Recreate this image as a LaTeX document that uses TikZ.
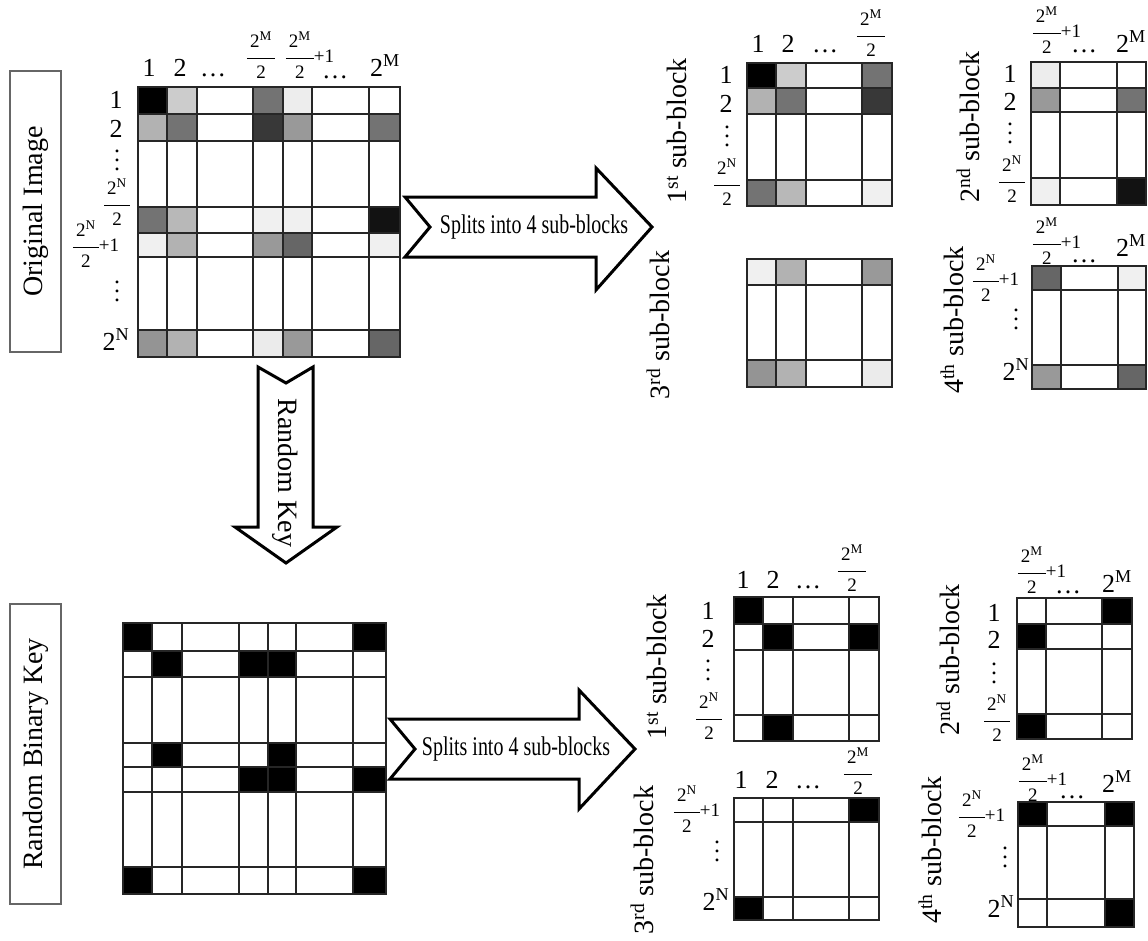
\documentclass[tikz,border=0pt]{standalone}
\usepackage{fontspec}
\setmainfont{Liberation Serif}
\usepackage{tikz}

% one grid of shaded cells: #1 column edges, #2 row edges, #3 grey levels row by row
\newcommand{\pixgrid}[3]{%
  \foreach [count=\r from 0] \rowvals in {#3} {
    \foreach [count=\c from 0] \s in \rowvals {
      \pgfmathsetmacro\xa{{#1}[\c]}
      \pgfmathsetmacro\xb{{#1}[\c+1]}
      \pgfmathsetmacro\ya{{#2}[\r]}
      \pgfmathsetmacro\yb{{#2}[\r+1]}
      \draw[cell,fill=black!\s] (\xa,\ya) rectangle (\xb,\yb);
    }
  }%
}
% three stacked dots
\newcommand{\stackdots}{\vbox{\baselineskip=9pt\hbox{.}\hbox{.}\hbox{.}}}
% 2^X over 2
\newcommand{\halffrac}[1]{{\setlength{\arrayrulewidth}{1.5pt}%
  \begin{tabular}{@{\,}c@{\,}}2\textsuperscript{#1}\\[5pt]\hline\rule{0pt}{19pt}2\end{tabular}}}

\begin{document}
\begin{tikzpicture}[x=1pt,y=-1pt]
  \tikzstyle{cell}=[draw=black!85,line width=1.6pt]
  \tikzstyle{lbl}=[inner sep=0pt,anchor=base,font=\fontsize{26}{26}\selectfont]
  \tikzstyle{frc}=[inner sep=0pt,font=\fontsize{19}{19}\selectfont]
  \tikzstyle{vdts}=[inner sep=0pt,font=\fontsize{24}{24}\selectfont]
  \tikzstyle{sidebox}=[draw=black!60,line width=1.8pt,rotate=90,minimum height=51pt,inner sep=0pt,font=\fontsize{28}{28}\selectfont]
  \tikzstyle{subname}=[rotate=90,inner sep=0pt,font=\fontsize{28}{28}\selectfont]
  \tikzstyle{blockarrow}=[draw=black,line width=3pt,fill=white,line join=miter]
  \tikzstyle{arrowtext}=[inner sep=0pt,font=\fontsize{27}{27}\selectfont]
  \useasboundingbox[fill=white] (0,0) rectangle (1148,940);

  % original image
  \node[sidebox,minimum width=281pt] (origbox) at (35.5,211.5) {Original Image};
  \pixgrid{138,167,197,253,283,312,369,400}{87,114,141,207,233,257,330,357}
    {{100,20,0,55,7,0,0},{30,55,0,78,40,0,55},{0,0,0,0,0,0,0},{55,28,0,6,6,0,93},
     {6,30,0,40,60,0,6},{0,0,0,0,0,0,0},{42,30,0,8,40,0,60}}
  \node[lbl] (oc1) at (149,76) {1};
  \node[lbl] (oc2) at (180,76) {2};
  \node[lbl] (oc3) at (213,76) {\dots};
  \node[frc] (oc4) at (261,58) {\halffrac{M}};
  \node[frc] (oc5) at (310,58) {\halffrac{M}+1};
  \node[lbl] (oc6) at (335,78) {\dots};
  \node[lbl] (oc7) at (385,76) {2\textsuperscript{M}};
  \node[lbl] (or1) at (116,108) {1};
  \node[lbl] (or2) at (116,137) {2};
  \node[vdts] (or3) at (117,160) {\stackdots};
  \node[frc] (or4) at (117,205) {\halffrac{N}};
  \node[frc] (or5) at (96,247) {\halffrac{N}+1};
  \node[vdts] (or6) at (117,291) {\stackdots};
  \node[lbl] (or7) at (116,350) {2\textsuperscript{N}};

  % split arrow, top
  \draw[blockarrow] (405,197) -- (596,197) -- (596,168) -- (652,227) -- (596,290)
    -- (596,257) -- (405,257) -- (430,227) -- cycle;
  \node[arrowtext] (split1) at (534,227) {\scalebox{0.74}[1]{Splits into 4 sub-blocks}};

  % random key arrow
  \draw[blockarrow] (258,367) -- (286,383) -- (313,367) -- (313,527) -- (337,527)
    -- (286,563) -- (235,527) -- (258,527) -- cycle;
  \node[arrowtext,rotate=-90,font=\fontsize{28}{28}\selectfont] (keyarrow) at (285,473) {Random Key};

  % sub-blocks of the image
  \node[subname] (img1) at (677,131) {1\textsuperscript{st} sub-block};
  \pixgrid{747,776,806,862,892}{63,88,114,180,206}
    {{100,20,0,55},{30,55,0,78},{0,0,0,0},{55,28,0,6}}
  \node[lbl] (a1c1) at (758,52) {1};
  \node[lbl] (a1c2) at (788,52) {2};
  \node[lbl] (a1c3) at (825,52) {\dots};
  \node[frc] (a1c4) at (871,36) {\halffrac{M}};
  \node[lbl] (a1r1) at (726,83) {1};
  \node[lbl] (a1r2) at (726,112) {2};
  \node[vdts] (a1r3) at (727,136) {\stackdots};
  \node[frc] (a1r4) at (727,185) {\halffrac{N}};

  \node[subname] (img2) at (968,127) {2\textsuperscript{nd} sub-block};
  \pixgrid{1031,1060,1117,1146}{62,88,112,178,205}
    {{7,0,0},{40,0,55},{0,0,0},{6,0,93}}
  \node[frc] (a2c1) at (1057,33) {\halffrac{M}+1};
  \node[lbl] (a2c2) at (1084,52) {\dots};
  \node[lbl] (a2c3) at (1131,52) {2\textsuperscript{M}};
  \node[lbl] (a2r1) at (1010,82) {1};
  \node[lbl] (a2r2) at (1010,110) {2};
  \node[vdts] (a2r3) at (1010,133) {\stackdots};
  \node[frc] (a2r4) at (1012,182) {\halffrac{N}};

  \node[subname] (img3) at (658,325) {3\textsuperscript{rd} sub-block};
  \pixgrid{747,776,806,862,892}{259,285,360,387}
    {{6,30,0,40},{0,0,0,0},{42,30,0,8}}

  \node[subname] (img4) at (952,320) {4\textsuperscript{th} sub-block};
  \pixgrid{1032,1061,1118,1146}{266,290,365,389}
    {{60,0,6},{0,0,0},{40,0,60}}
  \node[frc] (a4c1) at (1057,244) {\halffrac{M}+1};
  \node[lbl] (a4c2) at (1084,262) {\dots};
  \node[lbl] (a4c3) at (1131,256) {2\textsuperscript{M}};
  \node[frc] (a4r1) at (996,281) {\halffrac{N}+1};
  \node[vdts] (a4r2) at (1016,319) {\stackdots};
  \node[lbl] (a4r3) at (1016,380) {2\textsuperscript{N}};

  % random binary key
  \node[sidebox,minimum width=300pt] (keybox) at (35.5,754) {Random Binary Key};
  \pixgrid{123,152,182,239,268,296,353,386}{623,651,677,743,767,792,867,894}
    {{100,0,0,0,0,0,100},{0,100,0,100,100,0,0},{0,0,0,0,0,0,0},{0,100,0,0,100,0,0},
     {0,0,0,100,100,0,100},{0,0,0,0,0,0,0},{100,0,0,0,0,0,100}}

  % split arrow, bottom
  \draw[blockarrow] (390,719) -- (579,719) -- (579,690) -- (635,749) -- (579,809)
    -- (579,779) -- (390,779) -- (415,749) -- cycle;
  \node[arrowtext] (split2) at (516,749) {\scalebox{0.74}[1]{Splits into 4 sub-blocks}};

  % sub-blocks of the key
  \node[subname] (key1) at (657,667) {1\textsuperscript{st} sub-block};
  \pixgrid{734,763,793,849,879}{597,624,650,715,741}
    {{100,0,0,0},{0,100,0,100},{0,0,0,0},{0,100,0,0}}
  \node[lbl] (b1c1) at (743,588) {1};
  \node[lbl] (b1c2) at (773,588) {2};
  \node[lbl] (b1c3) at (808,588) {\dots};
  \node[frc] (b1c4) at (852,571) {\halffrac{M}};
  \node[lbl] (b1r1) at (708,619) {1};
  \node[lbl] (b1r2) at (708,647) {2};
  \node[vdts] (b1r3) at (708,670) {\stackdots};
  \node[frc] (b1r4) at (709,719) {\halffrac{N}};

  \node[subname] (key2) at (948,660) {2\textsuperscript{nd} sub-block};
  \pixgrid{1017,1046,1102,1132}{598,624,649,714,739}
    {{0,0,100},{100,0,0},{0,0,0},{100,0,0}}
  \node[frc] (b2c1) at (1042,573) {\halffrac{M}+1};
  \node[lbl] (b2c2) at (1068,593) {\dots};
  \node[lbl] (b2c3) at (1117,592) {2\textsuperscript{M}};
  \node[lbl] (b2r1) at (994,621) {1};
  \node[lbl] (b2r2) at (994,648) {2};
  \node[vdts] (b2r3) at (994,673) {\stackdots};
  \node[frc] (b2r4) at (997,721) {\halffrac{N}};

  \node[subname] (key3) at (642,860) {3\textsuperscript{rd} sub-block};
  \pixgrid{734,763,793,849,879}{798,822,897,920}
    {{0,0,0,100},{0,0,0,0},{100,0,0,0}}
  \node[lbl] (b3c1) at (741,788) {1};
  \node[lbl] (b3c2) at (772,788) {2};
  \node[lbl] (b3c3) at (808,788) {\dots};
  \node[frc] (b3c4) at (858,774) {\halffrac{M}};
  \node[frc] (b3r1) at (697,812) {\halffrac{N}+1};
  \node[vdts] (b3r2) at (717,851) {\stackdots};
  \node[lbl] (b3r3) at (716,910) {2\textsuperscript{N}};

  \node[subname] (key4) at (930,850) {4\textsuperscript{th} sub-block};
  \pixgrid{1018,1047,1105,1134}{802,826,899,927}
    {{100,0,100},{0,0,0},{0,0,100}}
  \node[frc] (b4c1) at (1043,781) {\halffrac{M}+1};
  \node[lbl] (b4c2) at (1072,798) {\dots};
  \node[lbl] (b4c3) at (1117,792) {2\textsuperscript{M}};
  \node[frc] (b4r1) at (982,817) {\halffrac{N}+1};
  \node[vdts] (b4r2) at (1005,857) {\stackdots};
  \node[lbl] (b4r3) at (1001,917) {2\textsuperscript{N}};
\end{tikzpicture}
\end{document}
